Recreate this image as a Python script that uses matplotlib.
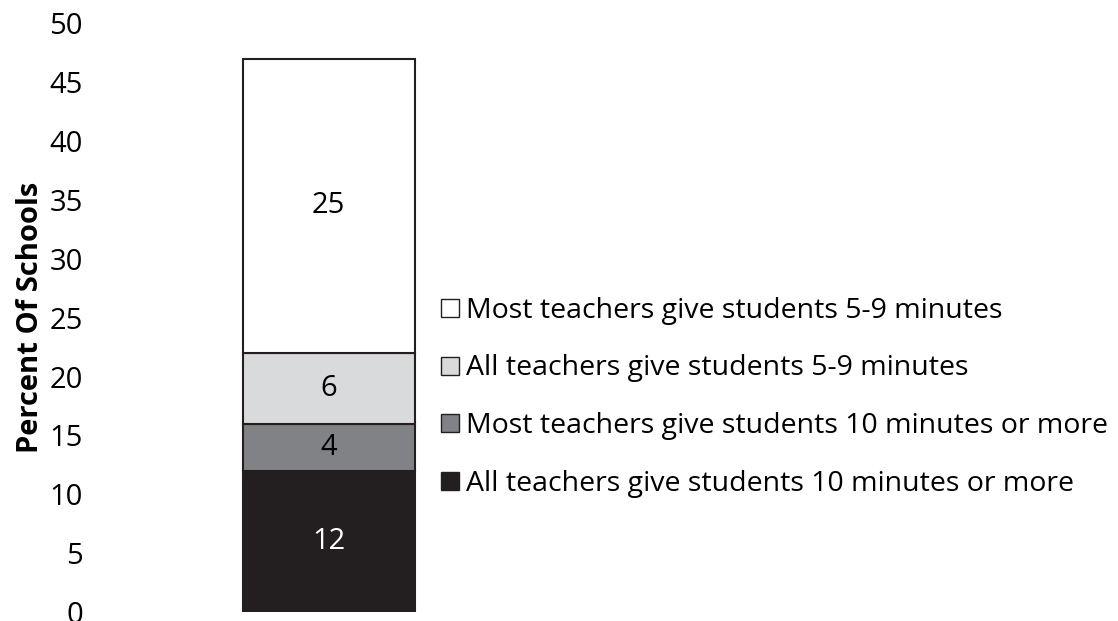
import matplotlib
matplotlib.use("Agg")
import matplotlib.pyplot as plt
from matplotlib.lines import Line2D

plt.rcParams['font.family'] = ['Open Sans', 'DejaVu Sans']

# data, bottom to top
labels = ["All teachers give students 10 minutes or more",
          "Most teachers give students 10 minutes or more",
          "All teachers give students 5-9 minutes",
          "Most teachers give students 5-9 minutes"]
values = [12, 4, 6, 25]
colors = ["#231f20", "#808285", "#d9dadb", "#ffffff"]
text_colors = ["white", "black", "black", "black"]
yticks = list(range(0, 55, 5))

fig = plt.figure(figsize=(11.18, 6.21), dpi=100)
ax = fig.add_axes([0.089, 0.0145, 0.41, 0.948])

bottom = 0
for v, c, tc in zip(values, colors, text_colors):
    ax.bar(0.5, v, width=0.375, bottom=bottom, color=c, edgecolor="#231f20", linewidth=1.5)
    ax.text(0.5, bottom + v / 2, str(v), ha="center", va="center", fontsize=21, color=tc)
    bottom += v

ax.set_xlim(0, 1)
ax.set_ylim(0, 50)
ax.set_yticks(yticks)
ax.tick_params(axis="y", length=0, labelsize=21, pad=12)
ax.set_xticks([])
for s in ax.spines.values():
    s.set_visible(False)
ax.set_ylabel("Percent Of Schools", fontsize=21, fontweight="bold", va="center")
ax.yaxis.set_label_coords(-0.15, 0.5)

handles = [Line2D([], [], linestyle="none", marker="s", markersize=13,
                  markerfacecolor=c, markeredgecolor="#231f20", markeredgewidth=1)
           for c in colors]
fig.legend(handles[::-1], labels[::-1], loc="center left", bbox_to_anchor=(0.372, 0.36),
           frameon=False, fontsize=20.5, handlelength=0.6, handletextpad=0.25,
           labelspacing=1.05)

fig.savefig("out.png", dpi=100)
